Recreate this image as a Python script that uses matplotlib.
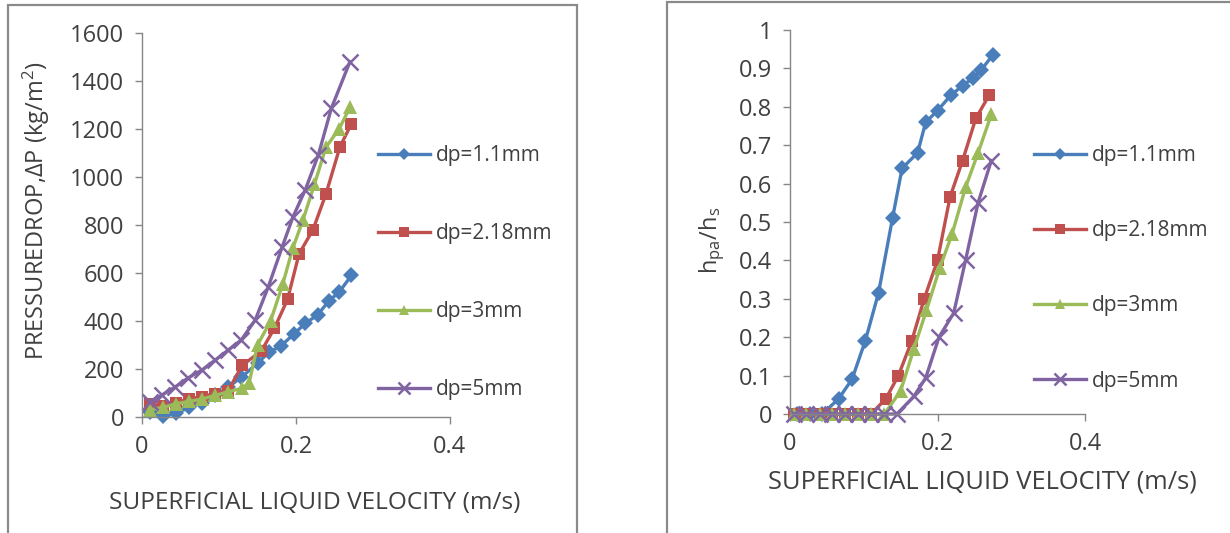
import matplotlib
matplotlib.use("Agg")
import matplotlib.pyplot as plt
from matplotlib.patches import Rectangle

plt.rcParams['font.family'] = ['Open Sans', 'DejaVu Sans']
plt.rcParams['mathtext.default'] = 'regular'

# ---------------- data: pressure drop ----------------
labels = ['dp=1.1mm', 'dp=2.18mm', 'dp=3mm', 'dp=5mm']
colors = ['#4A7EBB', '#C0504D', '#9BBB59', '#8064A2']
markers = ['D', 's', '^', 'x']

dp_v_blue = [0.010, 0.027, 0.044, 0.061, 0.078, 0.095, 0.112, 0.129, 0.150, 0.165, 0.180, 0.197, 0.212, 0.228, 0.243, 0.256, 0.272]
dp_p_blue = [20, 5, 15, 40, 60, 90, 125, 165, 225, 270, 295, 345, 390, 425, 485, 520, 590]

dp_v_red = [0.010, 0.027, 0.044, 0.061, 0.078, 0.095, 0.112, 0.130, 0.155, 0.172, 0.189, 0.204, 0.222, 0.239, 0.257, 0.272]
dp_p_red = [55, 45, 60, 75, 85, 95, 110, 215, 275, 370, 490, 680, 780, 930, 1125, 1222]

dp_v_green = [0.010, 0.027, 0.044, 0.061, 0.078, 0.095, 0.112, 0.130, 0.139, 0.150, 0.167, 0.183, 0.196, 0.209, 0.224, 0.239, 0.256, 0.270]
dp_p_green = [30, 40, 55, 65, 75, 90, 105, 120, 140, 300, 400, 556, 705, 820, 970, 1125, 1200, 1290]

dp_v_purple = [0.010, 0.026, 0.043, 0.060, 0.078, 0.095, 0.112, 0.129, 0.147, 0.164, 0.182, 0.196, 0.212, 0.229, 0.246, 0.270]
dp_p_purple = [63, 92, 125, 163, 196, 237, 279, 321, 404, 542, 708, 833, 946, 1092, 1287, 1480]

# ---------------- data: holdup ratio ----------------
h_v_blue = [0.010, 0.027, 0.044, 0.066, 0.084, 0.102, 0.120, 0.139, 0.152, 0.173, 0.184, 0.200, 0.218, 0.234, 0.248, 0.259, 0.275]
h_r_blue = [0, 0, 0, 0.04, 0.09, 0.19, 0.315, 0.51, 0.64, 0.68, 0.76, 0.79, 0.83, 0.855, 0.875, 0.895, 0.935]

h_v_red = [0.005, 0.022, 0.040, 0.057, 0.075, 0.092, 0.110, 0.130, 0.147, 0.165, 0.182, 0.200, 0.217, 0.234, 0.252, 0.270]
h_r_red = [0, 0, 0, 0, 0, 0, 0, 0.04, 0.10, 0.19, 0.30, 0.40, 0.565, 0.66, 0.77, 0.83]

h_v_green = [0.005, 0.022, 0.040, 0.057, 0.075, 0.092, 0.110, 0.128, 0.150, 0.168, 0.185, 0.203, 0.220, 0.238, 0.255, 0.273]
h_r_green = [0, 0, 0, 0, 0, 0, 0, 0, 0.06, 0.17, 0.27, 0.38, 0.47, 0.59, 0.68, 0.78]

h_v_purple = [0.005, 0.022, 0.040, 0.057, 0.075, 0.092, 0.110, 0.128, 0.145, 0.168, 0.184, 0.202, 0.222, 0.238, 0.255, 0.273]
h_r_purple = [0, 0, 0, 0, 0, 0, 0, 0, 0, 0.046, 0.094, 0.20, 0.263, 0.40, 0.55, 0.66]

x_ticks = [0, 0.2, 0.4]
x_ticklabels = ['0', '0.2', '0.4']
dp_yticks = [0, 200, 400, 600, 800, 1000, 1200, 1400, 1600]
h_yticks = [0, 0.1, 0.2, 0.3, 0.4, 0.5, 0.6, 0.7, 0.8, 0.9, 1]
h_yticklabels = ['0', '0.1', '0.2', '0.3', '0.4', '0.5', '0.6', '0.7', '0.8', '0.9', '1']

W, H = 1230, 533
fig = plt.figure(figsize=(W / 100, H / 100), dpi=100)

def box(x0, y0, x1, y1):
    return [x0 / W, 1 - y1 / H, (x1 - x0) / W, (y1 - y0) / H]

# panel frames
for (x0, y0, x1, y1) in [(8, 5, 577, 560), (667, 2, 1260, 560)]:
    fig.patches.append(Rectangle((x0 / W, 1 - y1 / H), (x1 - x0) / W, (y1 - y0) / H,
                                 transform=fig.transFigure, fill=False,
                                 edgecolor='#8a8a8a', linewidth=1.6, clip_on=False))

ax1 = fig.add_axes(box(142, 33, 450, 417))
ax2 = fig.add_axes(box(790, 30, 1085, 414))

gray = '#868686'
txt = '#404040'
fs = 17
lfs = 15

def style(ax):
    for s in ['top', 'right']:
        ax.spines[s].set_visible(False)
    for s in ['left', 'bottom']:
        ax.spines[s].set_color(gray)
        ax.spines[s].set_linewidth(1.0)
    ax.tick_params(axis='both', direction='out', length=5, width=1, color=gray,
                   labelsize=fs, labelcolor=txt)
    ax.tick_params(axis='y', pad=8)
    ax.tick_params(axis='x', pad=8)
    ax.set_xlim(0, 0.4)
    ax.set_xticks(x_ticks)
    ax.set_xticklabels(x_ticklabels)

series_dp = [(dp_v_blue, dp_p_blue), (dp_v_red, dp_p_red), (dp_v_green, dp_p_green), (dp_v_purple, dp_p_purple)]
series_h = [(h_v_blue, h_r_blue), (h_v_red, h_r_red), (h_v_green, h_r_green), (h_v_purple, h_r_purple)]

msizes = [8.5, 9, 10, 11]
for ax, series in [(ax1, series_dp), (ax2, series_h)]:
    style(ax)
    for (xv, yv), c, m, lab, ms in zip(series, colors, markers, labels, msizes):
        kw = dict(color=c, linewidth=2.4, marker=m, markersize=ms, label=lab, clip_on=False)
        if m == 'x':
            kw.update(markeredgewidth=1.8)
        else:
            kw.update(markeredgewidth=0)
        ax.plot(xv, yv, **kw)

ax1.set_ylim(0, 1600)
ax1.set_yticks(dp_yticks)
ax2.set_ylim(0, 1)
ax2.set_yticks(h_yticks)
ax2.set_yticklabels(h_yticklabels)

fig.text(315 / W, 1 - 503 / H, 'SUPERFICIAL LIQUID VELOCITY (m/s)', ha='center', va='center',
         fontsize=17.6, color=txt)
fig.text(982 / W, 1 - 482 / H, 'SUPERFICIAL LIQUID VELOCITY (m/s)', ha='center', va='center',
         fontsize=18.4, color=txt)
fig.text(36 / W, 1 - 211 / H, 'PRESSUREDROP,ΔP (kg/m$^2$)', rotation=90, ha='center', va='center',
         fontsize=fs, color=txt)
fig.text(712 / W, 1 - 240 / H, 'h$_{pa}$/h$_{s}$', rotation=90, ha='center', va='center',
         fontsize=fs, color=txt)

leg_kw = dict(frameon=False, fontsize=lfs, handlelength=2.5, handletextpad=0.3,
              labelcolor=txt, borderaxespad=0, borderpad=0, markerscale=0.75)
ax1.legend(loc='upper left', bbox_to_anchor=(378 / W, 1 - 145 / H),
           bbox_transform=fig.transFigure, labelspacing=2.74, **leg_kw)
ax2.legend(loc='upper left', bbox_to_anchor=(1034 / W, 1 - 145 / H),
           bbox_transform=fig.transFigure, labelspacing=2.6, **leg_kw)

fig.savefig('out.png', dpi=100, facecolor='white')
